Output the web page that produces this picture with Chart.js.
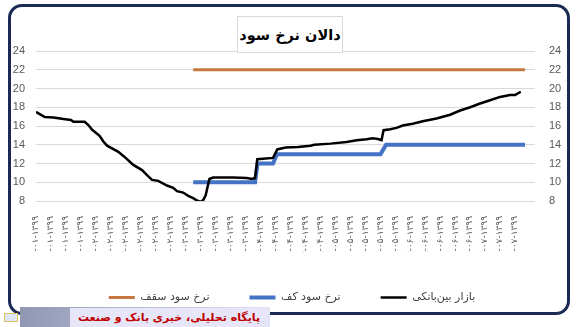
<!DOCTYPE html>
<html>
<head>
<meta charset="utf-8">
<script src="https://cdn.jsdelivr.net/npm/chart.js@4.4.1/dist/chart.umd.min.js"></script>
<style>
    html, body { margin: 0; padding: 0; background: #fff; }
    #wrap { position: relative; width: 584px; height: 327px; overflow: hidden; }
    #chart { position: absolute; left: 0; top: 0; }
    .frame {
        position: absolute; left: 8px; top: 4px; width: 562px; height: 311px;
        box-sizing: border-box; border: 3px solid #1b2a52; border-radius: 14px;
    }
    .titulo {
        position: absolute; left: 237px; top: 16px; width: 106px; height: 37px;
        box-sizing: border-box; border: 1px solid #d9d9d9; background: #fff;
        font: bold 14.5px "DejaVu Sans", sans-serif; color: #000; white-space: nowrap;
        display: flex; align-items: center; justify-content: center; direction: rtl;
    }
    .banner-bar {
        position: absolute; left: 20px; top: 307px; width: 250px; height: 20px;
        background: linear-gradient(to right, #8f97b3, #e3e3f6);
    }
    .banner-text {
        position: absolute; left: 70px; top: 308px; width: 198px; height: 19px;
        background: #e6e6f8; color: #c00000; direction: rtl; white-space: nowrap;
        font: bold 11px "DejaVu Sans", sans-serif; line-height: 19px; text-align: center;
    }
    .banner-icon {
        position: absolute; left: 4px; top: 313px; width: 14px; height: 9px;
        box-sizing: border-box; border: 1px solid #e0c060; background: #dfe6f5;
    }
</style>
</head>
<body>
<div id="wrap">
    <canvas id="chart" width="584" height="327"></canvas>
    <div class="frame"></div>
    <div class="titulo">دالان نرخ سود</div>
    <div class="banner-bar"></div>
    <div class="banner-text">پایگاه تحلیلی، خبری بانک و صنعت</div>
    <div class="banner-icon"></div>
</div>
<script>
    // dias contados desde la primera etiqueta del eje (cada etiqueta = 6 dias)
    const tickLabels = [
        '۰۸-۰۱-۱۳۹۹', '۱۴-۰۱-۱۳۹۹', '۲۰-۰۱-۱۳۹۹', '۲۶-۰۱-۱۳۹۹', '۰۱-۰۲-۱۳۹۹', '۰۷-۰۲-۱۳۹۹',
        '۱۳-۰۲-۱۳۹۹', '۱۹-۰۲-۱۳۹۹', '۲۵-۰۲-۱۳۹۹', '۳۱-۰۲-۱۳۹۹', '۰۶-۰۳-۱۳۹۹', '۱۲-۰۳-۱۳۹۹',
        '۱۸-۰۳-۱۳۹۹', '۲۴-۰۳-۱۳۹۹', '۳۰-۰۳-۱۳۹۹', '۰۵-۰۴-۱۳۹۹', '۱۱-۰۴-۱۳۹۹', '۱۷-۰۴-۱۳۹۹',
        '۲۳-۰۴-۱۳۹۹', '۲۹-۰۴-۱۳۹۹', '۰۴-۰۵-۱۳۹۹', '۱۰-۰۵-۱۳۹۹', '۱۶-۰۵-۱۳۹۹', '۲۲-۰۵-۱۳۹۹',
        '۲۸-۰۵-۱۳۹۹', '۰۳-۰۶-۱۳۹۹', '۰۹-۰۶-۱۳۹۹', '۱۵-۰۶-۱۳۹۹', '۲۱-۰۶-۱۳۹۹', '۲۷-۰۶-۱۳۹۹',
        '۰۲-۰۷-۱۳۹۹', '۰۸-۰۷-۱۳۹۹', '۱۴-۰۷-۱۳۹۹'
    ];
    const labelStep = 6;

    const interbankDays = [
        0, 3.5, 7, 11, 14, 15, 19.5, 21, 22.5, 25.5, 27, 28.5, 33, 35.5, 39, 42.5, 44.5, 46.5,
        49, 52.5, 55, 56.5, 59, 61, 63, 64.5, 66, 67, 68, 69.5, 71, 79, 84.5, 86.5, 87.8, 88.7,
        91, 95, 96.7, 100, 105, 110, 111.5, 118, 124.5, 128.5, 132.5, 135, 137, 138.5, 139.3,
        142, 144.5, 147, 151, 155, 160.5, 166, 170, 174, 178, 182, 186, 190, 192, 194.3
    ];
    const interbankRates = [
        17.5, 16.95, 16.9, 16.75, 16.65, 16.45, 16.45, 16.1, 15.6, 14.95, 14.35, 13.9, 13.25, 12.7, 11.85, 11.3, 10.75, 10.25,
        10.15, 9.65, 9.4, 9.05, 8.9, 8.55, 8.3, 8.05, 7.9, 8.1, 8.6, 10.35, 10.5, 10.5, 10.45, 10.35, 10.45, 12.45,
        12.5, 12.6, 13.5, 13.7, 13.75, 13.9, 14.0, 14.12, 14.3, 14.47, 14.58, 14.68, 14.62, 14.5, 15.55,
        15.65, 15.8, 16.05, 16.25, 16.5, 16.8, 17.2, 17.65, 18.0, 18.4, 18.75, 19.1, 19.3, 19.3, 19.65
    ];

    const floorDays = [63, 87.8, 88.8, 95, 96.6, 138.1, 140.3, 196];
    const floorRates = [10, 10, 12, 12, 13, 13, 14, 14];

    const ceilingDays = [63, 196];
    const ceilingRates = [22, 22];

    const seriesNames = ['بازار بین‌بانکی', 'نرخ سود کف', 'نرخ سود سقف'];

    function toPoints(xs, ys) {
        return xs.map((x, i) => ({ x, y: ys[i] }));
    }

    function lineDataset(label, xs, ys, color, width) {
        return {
            label,
            data: toPoints(xs, ys),
            borderColor: color,
            backgroundColor: color,
            borderWidth: width,
            pointRadius: 0,
            pointHoverRadius: 0,
            tension: 0,
            pointStyle: 'line'
        };
    }

    const ejeY = {
        min: 8,
        max: 24,
        border: { display: false },
        ticks: {
            stepSize: 2,
            autoSkip: false,
            color: '#595959',
            font: { family: 'Liberation Sans', size: 11 }
        }
    };

    new Chart(document.getElementById('chart'), {
        type: 'line',
        data: {
            datasets: [
                lineDataset(seriesNames[0], interbankDays, interbankRates, '#000000', 2.5),
                lineDataset(seriesNames[1], floorDays, floorRates, '#4472C4', 4),
                lineDataset(seriesNames[2], ceilingDays, ceilingRates, '#C5773F', 3)
            ]
        },
        options: {
            responsive: false,
            animation: false,
            layout: { padding: { top: 51, left: 0, right: 0, bottom: 14 } },
            plugins: {
                tooltip: { enabled: false },
                legend: {
                    position: 'bottom',
                    reverse: true,
                    labels: {
                        usePointStyle: true,
                        pointStyleWidth: 26,
                        padding: 40,
                        color: '#404040',
                        font: { family: 'DejaVu Sans', size: 11 }
                    }
                }
            },
            scales: {
                x: {
                    type: 'linear',
                    min: 0,
                    max: 200,
                    grid: { display: false },
                    border: { display: false },
                    afterBuildTicks: (scale) => {
                        scale.ticks = tickLabels.map((_, i) => ({ value: i * labelStep }));
                    },
                    afterFit: (scale) => { scale.height = 51; },
                    ticks: {
                        autoSkip: false,
                        minRotation: 90,
                        maxRotation: 90,
                        padding: 7,
                        color: '#595959',
                        font: { family: 'DejaVu Sans', size: 9 },
                        callback: (value) => tickLabels[Math.round(value / labelStep)] || ''
                    }
                },
                y: {
                    ...ejeY,
                    position: 'left',
                    grid: { color: '#d9d9d9', drawTicks: false },
                    afterFit: (scale) => { scale.width = 36; },
                    ticks: { ...ejeY.ticks, padding: 11 }
                },
                y2: {
                    ...ejeY,
                    position: 'right',
                    grid: { display: false, drawTicks: false },
                    afterFit: (scale) => { scale.width = 49; },
                    ticks: { ...ejeY.ticks, padding: 14 }
                }
            }
        }
    });
</script>
</body>
</html>
